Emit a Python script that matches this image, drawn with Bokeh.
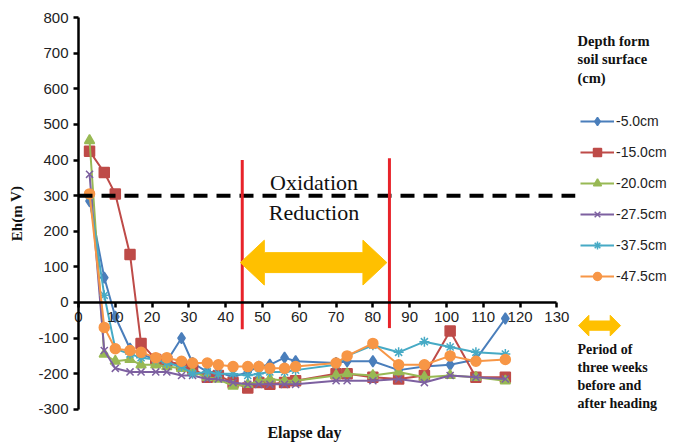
from bokeh.plotting import figure
from bokeh.models import Range1d, LinearAxis, FixedTicker, Label, Legend, LegendItem, PrintfTickFormatter
from bokeh.embed import file_html
from bokeh.resources import INLINE

days = [3, 7, 10, 14, 17, 21, 24, 28, 31, 35, 38, 42, 46, 49, 52, 56, 59, 70, 73, 80, 87, 94, 101, 108, 116]
eh_5_0 = [285, 70, -40, -130, -145, -160, -165, -100, -170, -195, -195, -210, -195, -180, -175, -155, -165, -170, -165, -165, -190, -180, -175, -160, -45]
eh_15_0 = [425, 365, 305, 135, -115, -160, -165, -175, -185, -210, -205, -225, -240, -225, -230, -225, -220, -200, -200, -210, -215, -205, -80, -210, -210]
eh_20_0 = [455, -145, -165, -160, -175, -175, -180, -185, -195, -210, -215, -235, -230, -220, -215, -220, -220, -205, -200, -205, -195, -210, -205, -210, -220]
eh_27_5 = [360, -135, -185, -195, -195, -195, -195, -205, -205, -215, -215, -225, -230, -230, -230, -230, -230, -220, -220, -220, -215, -225, -205, -210, -215]
eh_37_5 = [300, 20, -130, -145, -155, -160, -170, -180, -200, -195, -200, -200, -205, -200, -195, -195, -190, -175, -150, -120, -140, -110, -125, -140, -145]
eh_47_5 = [305, -70, -130, -135, -140, -155, -155, -165, -170, -170, -175, -180, -180, -180, -185, -185, -180, -170, -150, -115, -175, -175, -150, -165, -160]

series_labels = ["-5.0cm", "-15.0cm", "-20.0cm", "-27.5cm", "-37.5cm", "-47.5cm"]
x_ticks = [0, 10, 20, 30, 40, 50, 60, 70, 80, 90, 100, 110, 120, 130]
y_ticks = [-300, -200, -100, 0, 100, 200, 300, 400, 500, 600, 700, 800]
oxidation_threshold = 300
heading_start = 44.5
heading_end = 84.5

W, H = 673, 442
p = figure(width=W, height=H, output_backend="svg", toolbar_location=None,
           x_range=Range1d(-21.2, 161.7), y_range=Range1d(-393.3, 848.3),
           x_axis_location=None, y_axis_location=None,
           min_border=0, min_border_left=0, min_border_right=0,
           min_border_top=0, min_border_bottom=0)
p.outline_line_color = None
p.grid.visible = False
p.background_fill_color = "white"

xa = LinearAxis(fixed_location=0, ticker=FixedTicker(ticks=x_ticks), bounds=(0, 130))
ya = LinearAxis(fixed_location=0, ticker=FixedTicker(ticks=y_ticks), bounds=(-300, 800))
for ax in (xa, ya):
    ax.formatter = PrintfTickFormatter(format="%d")
    ax.axis_line_width = 2.5
    ax.axis_line_color = "black"
    ax.major_tick_line_width = 2.5
    ax.major_tick_line_color = "black"
    ax.major_tick_out = 5
    ax.major_tick_in = 0
    ax.minor_tick_line_color = None
    ax.major_label_text_font = "Liberation Sans"
    ax.major_label_text_font_size = "15px"
    ax.major_label_text_color = "#222222"
p.add_layout(xa, "below")
p.add_layout(ya, "left")

colors = ["#4A7EBB", "#BE4B48", "#98B954", "#7D60A0", "#46AAC5", "#F79646"]
markers = ["diamond", "square", "triangle", "x", "asterisk", "circle"]
sizes = [11, 10, 10, 10, 10, 10]
series = [eh_5_0, eh_15_0, eh_20_0, eh_27_5, eh_37_5, eh_47_5]

items = []
for lab, ys, c, m, s in zip(series_labels, series, colors, markers, sizes):
    r1 = p.line(days, ys, line_color=c, line_width=2)
    r2 = p.scatter(days, ys, marker=m, size=s, fill_color=c, line_color=c, line_width=1.5)
    items.append(LegendItem(label=lab, renderers=[r1, r2]))

# threshold line
p.segment(x0=[0], y0=[oxidation_threshold], x1=[135], y1=[oxidation_threshold],
          line_color="black", line_width=4, line_dash="14 9")
# heading lines
p.segment(x0=[heading_start, heading_end], y0=[400, 405], x1=[heading_start, heading_end], y1=[-75, -72],
          line_color="#E8232A", line_width=3)


def double_arrow(x0, x1, yc, head_len, head_half, shaft_half):
    xs = [x0, x0 + head_len, x0 + head_len, x1 - head_len, x1 - head_len, x1,
          x1 - head_len, x1 - head_len, x0 + head_len, x0 + head_len]
    ys = [yc, yc + head_half, yc + shaft_half, yc + shaft_half, yc + head_half, yc,
          yc - head_half, yc - shaft_half, yc - shaft_half, yc - head_half]
    return xs, ys


ax_, ay_ = double_arrow(44.0, 83.8, 112, 6.5, 63, 28)
p.patch(ax_, ay_, fill_color="#FFC000", line_color="#FFC000", line_width=1)
bx_, by_ = double_arrow(135.9, 147.3, -65, 2.8, 29, 13)
p.patch(bx_, by_, fill_color="#FFC000", line_color="#FFC000", line_width=1)

serif = "Liberation Serif"
p.add_layout(Label(x=64, y=337, text="Oxidation", text_font=serif, text_font_size="22px",
                   text_align="center", text_baseline="middle", text_color="#111111"))
p.add_layout(Label(x=64, y=253, text="Reduction", text_font=serif, text_font_size="22px",
                   text_align="center", text_baseline="middle", text_color="#111111"))

# legend title
for i, t in enumerate(["Depth form", "soil surface", "(cm)"]):
    p.add_layout(Label(x=577, y=H - 40 - i * 18.5, x_units="screen", y_units="screen", text=t,
                       text_font=serif, text_font_size="14.5px", text_font_style="bold",
                       text_baseline="middle", text_color="#111111"))
for i, t in enumerate(["Period of", "three weeks", "before and", "after heading"]):
    p.add_layout(Label(x=577, y=H - 349 - i * 18, x_units="screen", y_units="screen", text=t,
                       text_font=serif, text_font_size="14px", text_font_style="bold",
                       text_baseline="middle", text_color="#111111"))

# axis titles
p.add_layout(Label(x=304, y=H - 432, x_units="screen", y_units="screen", text="Elapse day",
                   text_font=serif, text_font_size="16px", text_font_style="bold",
                   text_align="center", text_baseline="middle", text_color="#111111"))
p.add_layout(Label(x=16, y=H - 213, x_units="screen", y_units="screen", text="Eh(m V)",
                   text_font=serif, text_font_size="15px", text_font_style="bold",
                   text_align="center", text_baseline="middle", angle=1.5708, text_color="#111111"))

legend = Legend(items=items, location=(580, H - 286), glyph_width=34, glyph_height=20,
                label_height=20, spacing=11, padding=0, margin=0,
                label_text_font="Liberation Sans", label_text_font_size="14px",
                label_text_color="#222222", background_fill_alpha=0, border_line_color=None,
                label_standoff=2)
p.add_layout(legend)

open("out.html", "w").write(file_html(p, INLINE))
